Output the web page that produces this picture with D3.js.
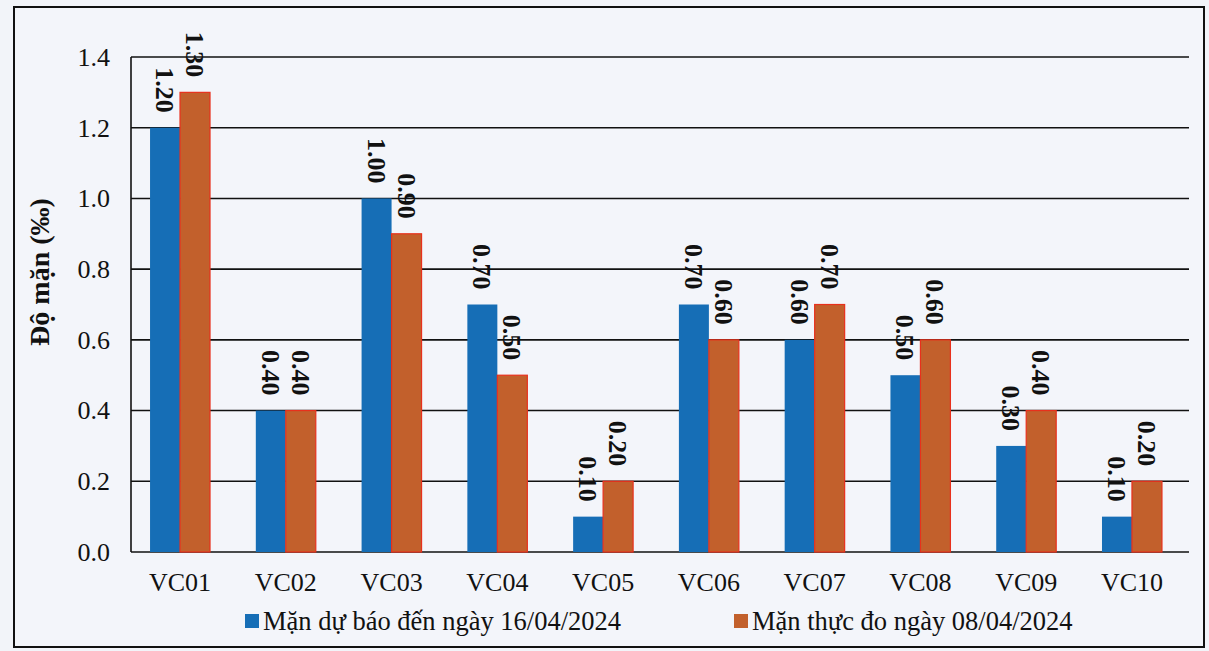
<!DOCTYPE html>
<html>
<head>
<meta charset="utf-8">
<script src="https://cdnjs.cloudflare.com/ajax/libs/d3/7.8.5/d3.min.js"></script>
<style>
body{margin:0;background:#f2f4f9;}
svg{display:block;font-family:"Liberation Serif","Times New Roman",serif;}
</style>
</head>
<body>
<svg width="1209" height="651"></svg>
<script>
// data
const stations = ["VC01","VC02","VC03","VC04","VC05","VC06","VC07","VC08","VC09","VC10"];
const duBao = [1.20,0.40,1.00,0.70,0.10,0.70,0.60,0.50,0.30,0.10];
const thucDo = [1.30,0.40,0.90,0.50,0.20,0.60,0.70,0.60,0.40,0.20];
const seriesNames = ["Mặn dự báo đến ngày 16/04/2024","Mặn thực đo ngày 08/04/2024"];
const yTicks = [0,0.2,0.4,0.6,0.8,1.0,1.2,1.4];

var svg = d3.select("svg");
// plot box (note: "top" is taken by window.top)
var pLeft = 131, pTop = 57, pRight = 1189, pBottom = 552;
var colors = ["#166eb6", "#c2602c"];

// frame around the whole chart
svg.append("rect")
   .attr("x",14).attr("y",7).attr("width",1190).attr("height",640)
   .attr("fill","#f3f5fa").attr("stroke","#111").attr("stroke-width",2);

let xScale = d3.scaleBand().domain(stations).range([pLeft,1181]).paddingInner(0.433).paddingOuter(0.18);
let sub = d3.scaleBand().domain([0,1]).range([0,xScale.bandwidth()]);
let yScale = d3.scaleLinear().domain([0,1.4]).range([pBottom,pTop]);

// gridlines
svg.append("g").selectAll("line")
   .data(yTicks).enter().append("line")
   .attr("x1",pLeft).attr("x2",pRight)
   .attr("y1",d=>yScale(d)).attr("y2",d=>yScale(d))
   .attr("stroke","#111").attr("stroke-width",1.6);

svg.append("line")
   .attr("x1",pLeft).attr("x2",pLeft).attr("y1",pTop).attr("y2",pBottom)
   .attr("stroke","#111").attr("stroke-width",1.6);

// y axis tick labels
var yAxis = svg.append("g")
   .attr("transform","translate(" + pLeft + ",0)")
   .call(d3.axisLeft(yScale).tickValues(yTicks).tickFormat(d3.format(".1f")).tickSize(0).tickPadding(21));
yAxis.select(".domain").remove();
yAxis.selectAll("text").attr("font-size",26).attr("fill","#111")
     .attr("font-family","Liberation Serif");

svg.append("text")
   .attr("transform","translate(" + 49 + "," + 272 + ") rotate(-90)")
   .attr("text-anchor","middle")
   .attr("font-size",28).attr("font-weight","bold").attr("fill","#111")
   .text("Độ mặn (‰)");

// x axis labels
var xAxis = svg.append("g")
   .attr("transform","translate(0," + pBottom + ")")
   .call(d3.axisBottom(xScale).tickSize(0).tickPadding(21));
xAxis.select(".domain").remove();
xAxis.selectAll("text").attr("font-size",26).attr("fill","#111")
     .attr("font-family","Liberation Serif");

// bars
var rows = stations.map((s,i)=>({s:s, v:[duBao[i],thucDo[i]]}));
var grp = svg.append("g").selectAll("g")
   .data(rows).enter().append("g")
   .attr("transform",d=>"translate(" + xScale(d.s) + ",0)");

grp.selectAll("rect")
   .data(d=>d.v).enter().append("rect")
   .attr("x",(d,j)=>sub(j))
   .attr("y",d=>yScale(d))
   .attr("width",sub.bandwidth())
   .attr("height",d=>pBottom - yScale(d))
   .attr("fill",(d,j)=>colors[j])
   .attr("stroke",(d,j)=> j==1 ? "#e8301c" : "none")
   .attr("stroke-width",1.2);

// value labels (rotated)
grp.selectAll("text")
   .data(d=>d.v).enter().append("text")
   .attr("transform",(d,j)=>"translate(" + (sub(j)+sub.bandwidth()/2 - 9) + "," + (yScale(d) - 15) + ") rotate(90)")
   .attr("text-anchor","end")
   .attr("font-size",26).attr("font-weight","bold").attr("fill","#111")
   .text(d=>d.toFixed(2));

// legend
var legend = svg.append("g");
var lx = [245, 734];
seriesNames.forEach(function(n,i){
  legend.append("rect")
     .attr("x",lx[i]).attr("y",614).attr("width",14).attr("height",14)
     .attr("fill",colors[i]);
  legend.append("text")
     .attr("x",lx[i]+18).attr("y",630)
     .attr("font-size",26.5).attr("fill","#111")
     .text(n);
});
</script>
</body>
</html>
